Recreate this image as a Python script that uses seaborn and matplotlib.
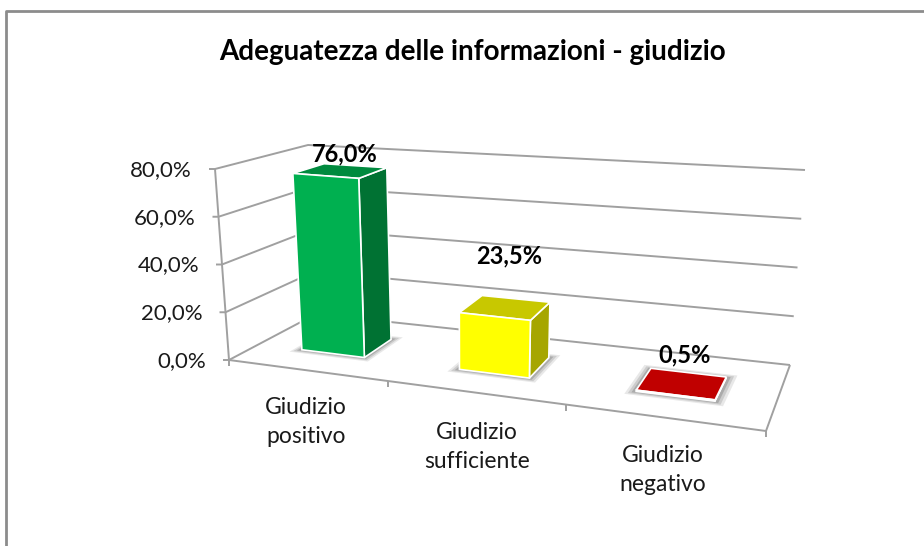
import numpy as np
import pandas as pd
import matplotlib
matplotlib.use('Agg')
import matplotlib.pyplot as plt
from matplotlib.patches import Polygon
from matplotlib.transforms import Affine2D, Transform
import seaborn as sns

categories = ['Giudizio\npositivo', 'Giudizio\nsufficiente', 'Giudizio\nnegativo']
values = [76.0, 23.5, 0.5]
value_labels = ['76,0%', '23,5%', '0,5%']
y_ticks = [0, 20, 40, 60, 80]
y_tick_labels = ['0,0%', '20,0%', '40,0%', '60,0%', '80,0%']
front_colors = ['#00B050', '#FFFF00', '#C00000']
side_colors = ['#007233', '#A6A600', '#8A0000']
top_colors = ['#008A3E', '#C8C800', '#C00000']

W, H = 924, 546
GRID = '#A0A0A0'
BAR_WIDTH = 0.41
D0, D1 = 0.34, 0.70  # depth of the bars inside the floor
C = 1.19  # foreshortening along the category axis

# pixel position of the 8 corners of the 3D box
FL0, FR0, BL0, BR0 = [np.array(p, float) for p in [(229, 360), (766, 431), (316, 314), (790, 365)]]
FL1, FR1, BL1, BR1 = [np.array(p, float) for p in [(215, 169), (785, 216), (308, 145), (805, 170)]]


def project(x, val, depth):
    x, val, depth = [np.asarray(a, float) for a in (x, val, depth)]
    t = (x + 0.5) / 3
    u = (t / (C * (1 - t) + t))[..., None]
    h = (val / 80)[..., None]
    v = depth[..., None]
    low = (1 - v) * ((1 - u) * FL0 + u * FR0) + v * ((1 - u) * BL0 + u * BR0)
    high = (1 - v) * ((1 - u) * FL1 + u * FR1) + v * ((1 - u) * BL1 + u * BR1)
    return (1 - h) * low + h * high


class Plane(Transform):
    # data coordinates (category, value) on a plane at a given depth -> image pixels
    input_dims = 2
    output_dims = 2
    is_separable = False
    has_inverse = False

    def __init__(self, plane_depth):
        super().__init__()
        self.plane_depth = plane_depth

    def transform_non_affine(self, values):
        values = np.asarray(values, float)
        return project(values[:, 0], values[:, 1], np.full(len(values), self.plane_depth))


sns.set_theme(style='white')
plt.rcParams['font.family'] = ['Lato', 'DejaVu Sans']

fig = plt.figure(figsize=(W / 100, H / 100), dpi=100, facecolor='white')
ax = fig.add_axes([0, 0, 1, 1])
px = Affine2D().scale(1, -1).translate(0, H)  # image pixels -> display

df = pd.DataFrame({'cat': categories, 'val': values})
sns.barplot(data=df, x='cat', y='val', hue='cat', palette=front_colors, order=categories,
            hue_order=categories, saturation=1, width=BAR_WIDTH, dodge=False, legend=False, ax=ax)
ax.set_xlim(-0.5, 2.5)
ax.set_ylim(0, 80)
ax.axis('off')


def line(points, color=GRID, lw=1.4, z=1):
    pts = np.array(points)
    ax.plot(pts[:, 0], pts[:, 1], color=color, lw=lw, transform=px, zorder=z, clip_on=False,
            solid_capstyle='butt')


def face(points, color, z=4, edge='white', lw=1.2, alpha=None):
    ax.add_patch(Polygon(np.array(points), closed=True, facecolor=color, edgecolor=edge, lw=lw,
                         alpha=alpha, transform=px, zorder=z, clip_on=False))


# chart frame
line([(5.5, H), (5.5, 10.5), (W, 10.5)], color='#8C8C8C', lw=2)

# walls and floor
for tick, label in zip(y_ticks, y_tick_labels):
    a = project(-0.5, tick, 0)
    b = project(-0.5, tick, 1)
    c = project(2.5, tick, 1)
    line([a - (6, 0), a, b, c])
    ax.text(a[0] - 23, a[1] + 1, label, transform=px, ha='right', va='center', fontsize=16,
            color='#1A1A1A', zorder=6)
line([FL1, FL0])
line([FL0, FR0, BR0])
for x in [-0.5, 0.5, 1.5, 2.5]:
    a = project(x, 0, 0)
    line([a, a + (0, 6)])

# bars: the front faces come from seaborn, sides and tops are added around them
for i, (bar, val) in enumerate(zip(ax.patches[:3], values)):
    x0, x1 = bar.get_x(), bar.get_x() + bar.get_width()

    for grow, a in [(0.05, 0.14), (0.035, 0.2), (0.02, 0.3)]:
        depth_grow = grow * 1.2
        shadow = project([x0 - grow, x1 + grow, x1 + grow, x0 - grow], [0, 0, 0, 0],
                         [D0 - depth_grow, D0 - depth_grow, D1 + depth_grow, D1 + depth_grow])
        face(shadow, '#606060', z=2, edge='none', lw=0, alpha=a)

    bar.set_transform(Plane(D0) + px)
    bar.set_clip_on(False)
    bar.set_edgecolor('white')
    bar.set_linewidth(1.2)
    bar.set_zorder(5)

    face(project([x1, x1, x1, x1], [0, val, val, 0], [D0, D0, D1, D1]), side_colors[i])
    face(project([x0, x1, x1, x0], [val] * 4, [D0, D0, D1, D1]), top_colors[i])

# value labels sit where the original chart placed them by hand
for label, pos in zip(value_labels, [(345, 154), (509, 256), (685, 355)]):
    ax.text(pos[0], pos[1], label, transform=px, ha='center', va='center', fontsize=17,
            fontweight='bold', color='black', zorder=7)

for label, pos in zip(categories, [(306, 422), (477, 447), (663, 470)]):
    ax.text(pos[0], pos[1], label, transform=px, ha='center', va='center', fontsize=16.5,
            color='#1A1A1A', linespacing=1.45, zorder=6)

ax.text(472, 52, 'Adeguatezza delle informazioni - giudizio', transform=px, ha='center',
        va='center', fontsize=20, fontweight='bold', color='black', zorder=6)

fig.savefig('out.png', dpi=100, facecolor='white')
